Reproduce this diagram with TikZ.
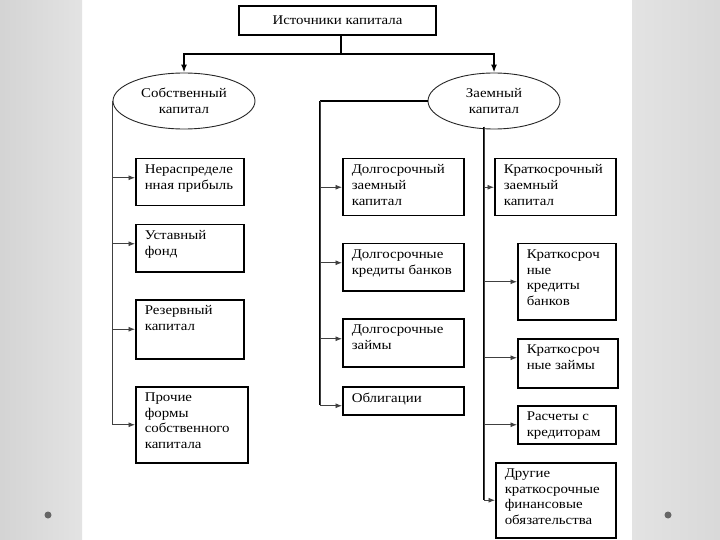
\documentclass[tikz,border=0pt]{standalone}
\usepackage{fontspec}
\setmainfont{Liberation Serif}[FakeStretch=1.12]
\usetikzlibrary{arrows.meta,shapes.geometric}
\newcommand{\mybox}[6]{\node[bx] (#1) at (#2,#3) {\parbox[c][#5bp][t]{#4bp}{\vspace*{6bp}\hspace*{9bp}\parbox[t]{\dimexpr#4bp-11bp\relax}{\raggedright #6}}};}
\begin{document}
\begin{tikzpicture}[x=1bp,y=-1bp,
  bx/.style={draw=black, line width=1.5bp, anchor=north west, inner sep=0pt, fill=white},
  txt/.style={font=\fontsize{13.3bp}{15.6bp}\selectfont},
  every node/.style={txt},
  el/.style={draw=black!85, line width=0.9bp, ellipse, inner sep=0pt, align=center, fill=white},
  br/.style={draw=black!75, line width=0.8bp, -{Latex[length=6.5bp,width=5bp]}},
  trunk/.style={draw=black, line width=1.3bp},
  main/.style={draw=black, line width=1.6bp, -{Latex[length=8bp,width=6bp]}}]
\useasboundingbox (0,0) rectangle (720,540);
\fill[white] (0,0) rectangle (720,540);
\shade[left color=black!17, right color=black!11] (0,0) rectangle (82,540);
\shade[left color=black!11, right color=black!15] (632,0) rectangle (720,540);
\fill[black!60] (48,515) circle (3.5bp);
\fill[black!60] (668,515) circle (3.5bp);

% top
\node[draw=black, line width=1.5bp, minimum width=197bp, minimum height=29bp, inner sep=0pt] (top) at (337.5,20.5) {Источники капитала};
\node[el, minimum width=142bp, minimum height=56bp] (le) at (184,101) {Собственный\\капитал};
\node[el, minimum width=132bp, minimum height=56bp] (re) at (494,101) {Заемный\\капитал};
\coordinate (tj) at (341,54);
\draw[trunk, line width=1.6bp] (top.south -| tj) -- (tj);
\draw[main] (tj) -| (le.north);
\draw[main] (tj) -| (re.north);

% left column
\mybox{a1}{135}{158}{108}{47}{Нераспределе\\нная прибыль}
\mybox{a2}{135}{224}{108}{47}{Уставный\\фонд}
\mybox{a3}{135}{299}{108}{59}{Резервный\\капитал}
\mybox{a4}{135}{386}{112}{76}{Прочие\\формы\\собственного\\капитала}

% middle column
\mybox{b1}{342}{158}{121}{57}{Долгосрочный\\заемный\\капитал}
\mybox{b2}{342}{243}{121}{47}{Долгосрочные\\кредиты банков}
\mybox{b3}{342}{318}{121}{48}{Долгосрочные\\займы}
\mybox{b4}{342}{386}{121}{28}{Облигации}

% right column
\mybox{c1}{494}{158}{121}{57}{Краткосрочный\\заемный\\капитал}
\mybox{c2}{517}{243}{98}{76}{Краткосроч\\ные\\кредиты\\банков}
\mybox{c3}{517}{338}{100}{49}{Краткосроч\\ные займы}
\mybox{c4}{517}{405}{98}{38}{Расчеты с\\кредиторам}
\mybox{c5}{495}{462}{120}{75}{Другие\\краткосрочные\\финансовые\\обязательства}

% left trunk
\draw[trunk] (le.west) -- (le.west |- 0,423);
\draw[br] (le.west) |- ([yshift=4.5bp]a1.west);
\draw[br] (le.west) |- ([yshift=4.5bp]a2.west);
\draw[br] (le.west) |- (a3.west);
\draw[br] (le.west) |- (a4.west);

% middle trunk
\coordinate (mt) at (320,101);
\draw[trunk, line width=1.6bp] (re.west) -- (mt);
\draw[trunk] (mt) -- (320,405);
\draw[br] (mt) |- (b1.west);
\draw[br] (mt) |- ([yshift=4.5bp]b2.west);
\draw[br] (mt) |- ([yshift=4bp]b3.west);
\draw[br] (mt) |- ([yshift=-5bp]b4.west);

% right trunk
\coordinate (rt) at (484,127);
\draw[trunk] (rt) -- (484,500);
\draw[br] (rt) |- (c1.west);
\draw[br] (rt) |- (c2.west);
\draw[br] (rt) |- ([yshift=5.5bp]c3.west);
\draw[br] (rt) |- (c4.west);
\draw[br] (rt) |- (c5.west);
\end{tikzpicture}
\end{document}
